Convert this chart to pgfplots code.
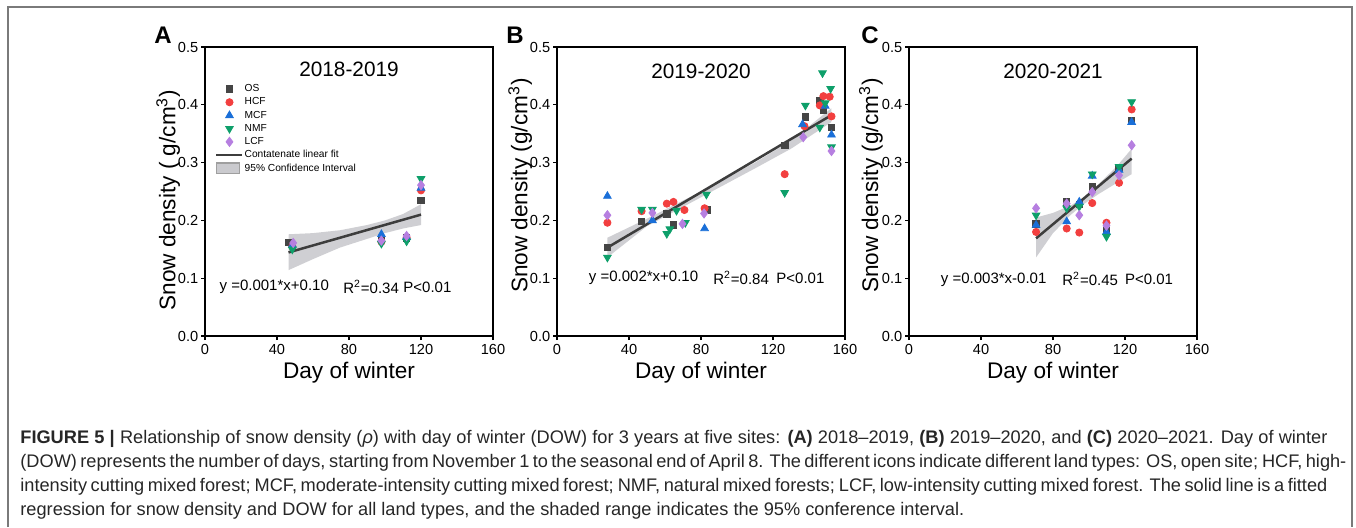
\documentclass[border=0pt]{standalone}
\usepackage{pgfplots}
\pgfplotsset{compat=1.18}
\usepackage{fontspec}
\setmainfont{Liberation Sans}

\definecolor{cOS}{HTML}{454545}
\definecolor{cHCF}{HTML}{F23F3F}
\definecolor{cMCF}{HTML}{1A6FD8}
\definecolor{cNMF}{HTML}{0E9F6A}
\definecolor{cLCF}{HTML}{B67FE0}
\definecolor{cFit}{HTML}{3D3D3D}
\definecolor{cBand}{HTML}{CACACE}
\definecolor{cFrame}{HTML}{7A7A7A}
\definecolor{cText}{HTML}{262626}

\tikzset{
  eqtext/.style={anchor=west, font=\fontsize{7.5}{9}\selectfont, inner sep=0pt},
  ttl/.style={font=\fontsize{10.4}{12}\selectfont},
}

\pgfplotsset{
  panel/.style={
    width=144pt, height=144.5pt, scale only axis,
    xmin=0, xmax=160, ymin=0, ymax=0.5,
    xtick={0,40,80,120,160},
    ytick={0,0.1,0.2,0.3,0.4,0.5},
    scaled y ticks=false,
    yticklabel style={/pgf/number format/fixed,/pgf/number format/fixed zerofill,
      /pgf/number format/precision=1, inner sep=1.2pt},
    /pgf/number format/assume math mode=true,
    tick label style={font=\fontsize{7.3}{8}\selectfont},
    xticklabel style={inner sep=1.5pt, yshift=-0.5pt},
    axis line style={line width=1pt},
    tick style={line width=0.6pt, black},
    tick pos=left, tick align=outside, major tick length=2pt,
    label style={font=\fontsize{11.3}{13}\selectfont},
    xlabel={Day of winter},
    xlabel style={at={(axis description cs:0.5,-0.128)}, anchor=center},
    clip=false,
  },
  os/.style={only marks, mark=square*, mark size=1.6pt, color=cOS},
  hcf/.style={only marks, mark=*, mark size=1.8pt, color=cHCF},
  mcf/.style={only marks, mark=triangle*, mark size=2.2pt, color=cMCF},
  nmf/.style={only marks, mark=triangle*, mark size=2.2pt, color=cNMF, mark options={rotate=180}},
  lcf/.style={only marks, mark=diamond*, mark size=2.3pt, color=cLCF},
  fit/.style={color=cFit, line width=1.25pt, no marks},
  band/.style={fill=cBand, draw=none, fill opacity=0.9},
  markimg/.style={legend image code/.code={\draw[mark repeat=2,mark phase=2,##1] plot coordinates {(0pt,0pt) (6.5pt,0pt) (13pt,0pt)};}},
  lineimg/.style={legend image code/.code={\draw[##1] (0pt,0pt) -- (13pt,0pt);}},
  bandimg/.style={legend image code/.code={\draw[##1] (0pt,-2.6pt) rectangle (11.5pt,2.6pt);}},
}

\begin{document}
\begin{tikzpicture}
\useasboundingbox (0,0) rectangle (678pt,263.5pt);
% page frame
\draw[cFrame, line width=0.8pt] (4pt,0pt) -- (4pt,260pt) -- (676pt,260pt) -- (676pt,0pt);

% ---------- A: 2018-2019 ----------
\begin{axis}[panel, at={(102.5pt,95.5pt)}, anchor=south west,
  ylabel={Snow density ( g/cm\textsuperscript{3})},
  ylabel style={at={(axis description cs:-0.128,0.47)}, anchor=center},
  legend style={at={(axis description cs:0.035,0.876)}, anchor=north west,
    draw=none, fill=none, inner sep=0pt, row sep=0.8pt,
    font=\fontsize{5.1}{6}\selectfont,
    nodes={inner sep=0.6pt, text height=3.6pt, text depth=1pt}},
  legend cell align=left]
\addplot[band, forget plot] coordinates {(46.4,0.176) (60,0.178) (75,0.183) (90,0.192) (100,0.200) (110,0.211) (120,0.228)
  (120,0.192) (110,0.186) (100,0.178) (90,0.168) (75,0.153) (60,0.133) (46.4,0.114)} -- cycle;
\addplot[fit, forget plot] coordinates {(46.4,0.1446) (120,0.210)};
\addplot[os, forget plot] coordinates {(46.5,0.162) (98,0.169) (112,0.170) (120,0.235)};
\addplot[hcf, forget plot] coordinates {(48.5,0.155) (98,0.163) (112,0.170) (120,0.252)};
\addplot[mcf, forget plot] coordinates {(48.5,0.157) (98,0.176) (112,0.171) (120,0.256)};
\addplot[nmf, forget plot] coordinates {(48.5,0.150) (98,0.160) (112,0.164) (120,0.272)};
\addplot[lcf, forget plot] coordinates {(49,0.161) (98,0.165) (112,0.173) (120,0.261)};
\addlegendimage{os, markimg}\addlegendentry{OS}
\addlegendimage{hcf, markimg}\addlegendentry{HCF}
\addlegendimage{mcf, markimg}\addlegendentry{MCF}
\addlegendimage{nmf, markimg}\addlegendentry{NMF}
\addlegendimage{lcf, markimg}\addlegendentry{LCF}
\addlegendimage{color=cFit, line width=1pt, lineimg}\addlegendentry{Contatenate linear fit}
\addlegendimage{fill=cBand, draw=gray!75, line width=0.8pt, bandimg}\addlegendentry{95\% Confidence Interval}
\node[ttl] at (axis cs:80,0.462) {2018-2019};
\node[eqtext] at (axis cs:7.9,0.085) {y =0.001*x+0.10};
\node[eqtext] at (axis cs:76.6,0.085) {R\textsuperscript{2}=0.34};
\node[eqtext] at (axis cs:110,0.085) {P<0.01};
\end{axis}

% ---------- B: 2019-2020 ----------
\begin{axis}[panel, at={(278.5pt,95.5pt)}, anchor=south west,
  ylabel={Snow density (g/cm\textsuperscript{3})},
  ylabel style={at={(axis description cs:-0.128,0.52)}, anchor=center}]
\addplot[band] coordinates {(28,0.170) (50,0.203) (80,0.250) (110,0.300) (130,0.338) (152.4,0.394)
  (152.4,0.370) (130,0.324) (110,0.290) (80,0.240) (50,0.190) (28,0.136)} -- cycle;
\addplot[fit] coordinates {(28,0.153) (152.4,0.382)};
\addplot[os] coordinates {(28,0.153) (47,0.198) (61,0.211) (64.5,0.192) (83.3,0.218) (126.5,0.330) (138,0.379) (146,0.408) (148,0.390) (152.5,0.361)};
\addplot[hcf] coordinates {(28,0.196) (47,0.216) (61,0.229) (64.7,0.232) (70.8,0.218) (82,0.221) (126.5,0.280) (137.5,0.363) (146,0.399) (148,0.415) (151.5,0.414) (152.5,0.380)};
\addplot[mcf] coordinates {(28,0.242) (53,0.200) (82,0.186) (136.4,0.366) (149,0.398) (152.5,0.348)};
\addplot[nmf] coordinates {(28,0.136) (47,0.219) (53,0.219) (61,0.177) (62.7,0.185) (66.4,0.217) (71.3,0.196) (83,0.245) (126.5,0.248) (138,0.399) (146,0.361) (147.5,0.455) (149,0.403) (152,0.428) (152.5,0.327)};
\addplot[lcf] coordinates {(28,0.209) (53,0.213) (69.7,0.194) (81.7,0.212) (136.8,0.344) (152.5,0.320)};
\node[ttl] at (axis cs:80,0.458) {2019-2020};
\node[eqtext] at (axis cs:17.5,0.100) {y =0.002*x+0.10};
\node[eqtext] at (axis cs:86.6,0.100) {R\textsuperscript{2}=0.84};
\node[eqtext] at (axis cs:121.7,0.100) {P<0.01};
\end{axis}

% ---------- C: 2020-2021 ----------
\begin{axis}[panel, at={(454.5pt,95.5pt)}, anchor=south west,
  ylabel={Snow density (g/cm\textsuperscript{3})},
  ylabel style={at={(axis description cs:-0.132,0.52)}, anchor=center}]
\addplot[band] coordinates {(70.6,0.205) (80,0.213) (90,0.226) (97,0.240) (105,0.262) (115,0.292) (123.7,0.324)
  (123.7,0.280) (115,0.264) (105,0.245) (97,0.228) (90,0.210) (80,0.178) (70.6,0.136)} -- cycle;
\addplot[fit] coordinates {(70.6,0.169) (123.7,0.307)};
\addplot[os] coordinates {(70.6,0.194) (87.6,0.232) (94.6,0.228) (101.8,0.258) (109.7,0.183) (116.7,0.290) (123.7,0.372)};
\addplot[hcf] coordinates {(70.6,0.180) (87.6,0.186) (94.6,0.179) (101.8,0.230) (109.7,0.196) (116.7,0.265) (123.7,0.392)};
\addplot[mcf] coordinates {(70.6,0.192) (87.6,0.198) (94.6,0.232) (101.8,0.277) (109.7,0.180) (116.7,0.287) (123.7,0.370)};
\addplot[nmf] coordinates {(70.6,0.209) (87.6,0.221) (94.6,0.224) (101.8,0.280) (109.7,0.172) (116.7,0.293) (123.7,0.405)};
\addplot[lcf] coordinates {(70.6,0.221) (87.6,0.229) (94.6,0.209) (101.8,0.249) (109.7,0.191) (116.7,0.278) (123.7,0.330)};
\node[ttl] at (axis cs:80,0.458) {2020-2021};
\node[eqtext] at (axis cs:17.5,0.098) {y =0.003*x-0.01};
\node[eqtext] at (axis cs:85,0.098) {R\textsuperscript{2}=0.45};
\node[eqtext] at (axis cs:119.8,0.098) {P<0.01};
\end{axis}

% panel letters
\node[font=\bfseries\fontsize{12}{14}\selectfont] at (81.5pt,246pt) {A};
\node[font=\bfseries\fontsize{12}{14}\selectfont] at (257.5pt,246pt) {B};
\node[font=\bfseries\fontsize{12}{14}\selectfont] at (435pt,246pt) {C};

% caption
\begin{scope}[every node/.style={anchor=base west, inner sep=0pt, text=cText, font=\fontsize{9.1}{11}\selectfont}]
\node at (10pt,42pt) {\makebox[653.5pt][s]{\textbf{FIGURE 5} \textbf{|} Relationship of snow density (\textit{ρ}) with day of winter (DOW) for 3 years at five sites: \textbf{(A)} 2018–2019, \textbf{(B)} 2019–2020, and \textbf{(C)} 2020–2021. Day of winter}};
\node at (10pt,30pt) {\makebox[653.5pt][s]{(DOW) represents the number of days, starting from November 1 to the seasonal end of April 8. The different icons indicate different land types: OS, open site; HCF, high-}};
\node at (10pt,18pt) {\makebox[653.5pt][s]{intensity cutting mixed forest; MCF, moderate-intensity cutting mixed forest; NMF, natural mixed forests; LCF, low-intensity cutting mixed forest. The solid line is a fitted}};
\node at (10pt,6pt) {regression for snow density and DOW for all land types, and the shaded range indicates the 95\% conference interval.};
\end{scope}
\end{tikzpicture}
\end{document}
